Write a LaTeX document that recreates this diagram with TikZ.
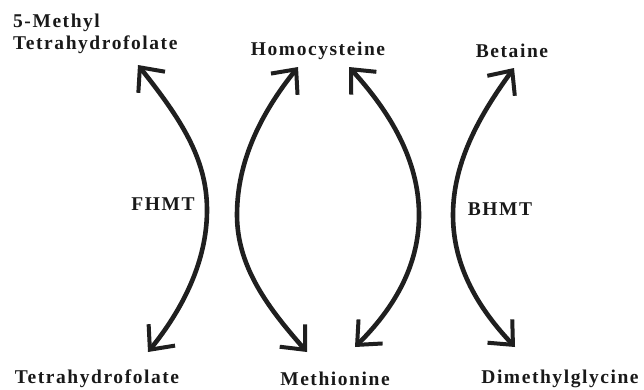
\documentclass[tikz,border=0pt]{standalone}
\usepackage{fontspec}
\setmainfont{Liberation Serif}[LetterSpace=8]
\usetikzlibrary{arrows.meta}
\begin{document}
\begin{tikzpicture}[x=1pt,y=-1pt,
  lbl/.style={font=\fontsize{19.5}{22}\selectfont\bfseries, inner sep=0pt, text=black!90},
  rxn/.style={line width=4.6pt, black!88, line cap=round,
    {Straight Barb[length=19pt,width=34pt,line width=4pt]}-{Straight Barb[length=19pt,width=34pt,line width=4pt]}}]
\useasboundingbox (0,0) rectangle (644,389);
% labels
\node[lbl, anchor=base west] (mthf1) at (13,27) {5-Methyl};
\node[lbl, anchor=base west] (mthf2) at (13,49) {Tetrahydrofolate};
\node[lbl, anchor=base] (hcy) at (318,55) {Homocysteine};
\node[lbl, anchor=base] (bet) at (512,57) {Betaine};
\node[lbl, anchor=base] (fhmt) at (163,210) {FHMT};
\node[lbl, anchor=base] (bhmt) at (500,215) {BHMT};
\node[lbl, anchor=base] (thf) at (97,383) {Tetrahydrofolate};
\node[lbl, anchor=base] (met) at (335,385) {Methionine};
\node[lbl, anchor=base] (dmg) at (560,383) {Dimethylglycine};
% arrow end points
\coordinate (a1t) at (138,65);
\coordinate (a1b) at (148,352);
\coordinate (a2t) at (298,67);
\coordinate (a2b) at (307,352);
\coordinate (a3t) at (349,67);
\coordinate (a3b) at (355,347);
\coordinate (a4t) at (514,68);
\coordinate (a4b) at (515,347);
% arrows
\draw[rxn] (a1b) .. controls (182,310) and (207,262) .. (207,210) .. controls (207,158) and (180,118) .. (a1t);
\draw[rxn] (a2b) .. controls (270,310) and (237,268) .. (237,215) .. controls (237,160) and (262,112) .. (a2t);
\draw[rxn] (a3b) .. controls (392,310) and (419,268) .. (419,215) .. controls (419,160) and (390,112) .. (a3t);
\draw[rxn] (a4b) .. controls (480,310) and (453,268) .. (453,215) .. controls (453,160) and (482,112) .. (a4t);
\end{tikzpicture}
\end{document}
